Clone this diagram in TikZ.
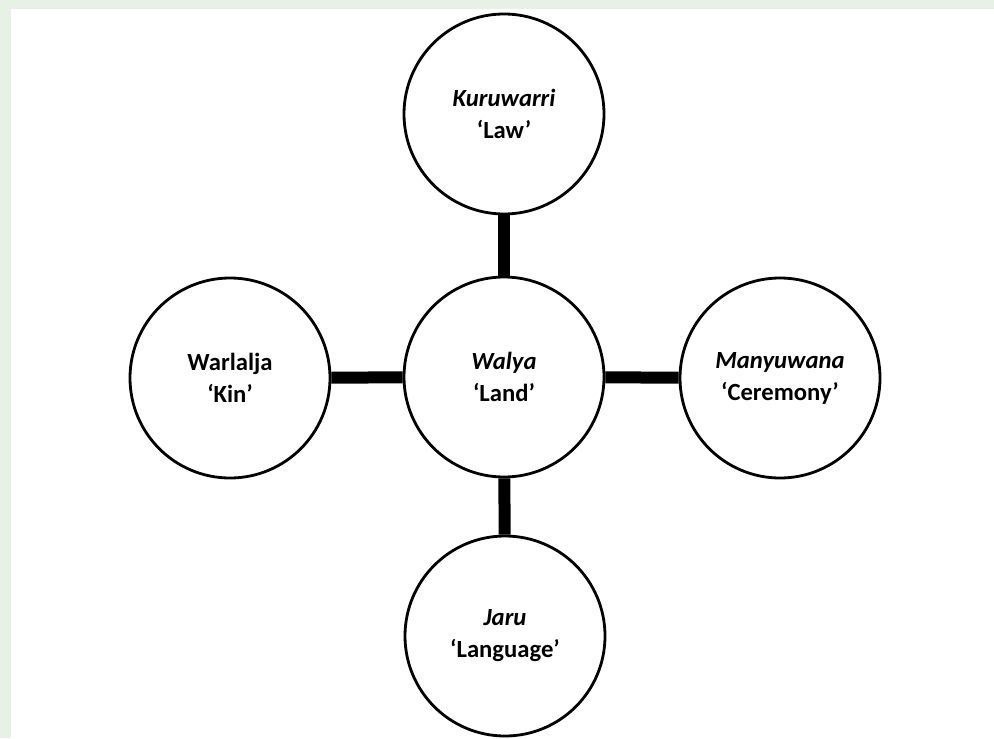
\documentclass[tikz,border=0pt]{standalone}
\usepackage{fontspec}
\setmainfont{Carlito}
\definecolor{panelgreen}{HTML}{E8F1E5}
\begin{document}
\begin{tikzpicture}[x=0.75pt,y=-0.75pt,
  concept/.style={circle, draw=black, line width=2.1pt, fill=white,
    minimum size=150pt, inner sep=0pt, align=center,
    font=\fontsize{18.5}{24}\selectfont\bfseries},
  link/.style={line width=9pt, black}]
  % page: green band along top and left, white panel
  \fill[panelgreen] (0,0) rectangle (994,738);
  \fill[white] (11,9) rectangle (994,738);
  \useasboundingbox (0,0) rectangle (994,738);

  \node[concept] (land) at (504,377) {\textit{Walya}\\`Land'};
  \node[concept] (law)  at (504,114) {\textit{Kuruwarri}\\`Law'};
  \node[concept] (kin)  at (230,378) {Warlalja\\`Kin'};
  \node[concept] (cer)  at (780,378) {\textit{Manyuwana}\\`Ceremony'};
  \node[concept] (lang) at (505,636) {\textit{Jaru}\\`Language'};

  \draw[link] (law) -- (land);
  \draw[link] (land) -- (lang);
  \draw[link] (kin) -- (land);
  \draw[link] (land) -- (cer);
\end{tikzpicture}
\end{document}
